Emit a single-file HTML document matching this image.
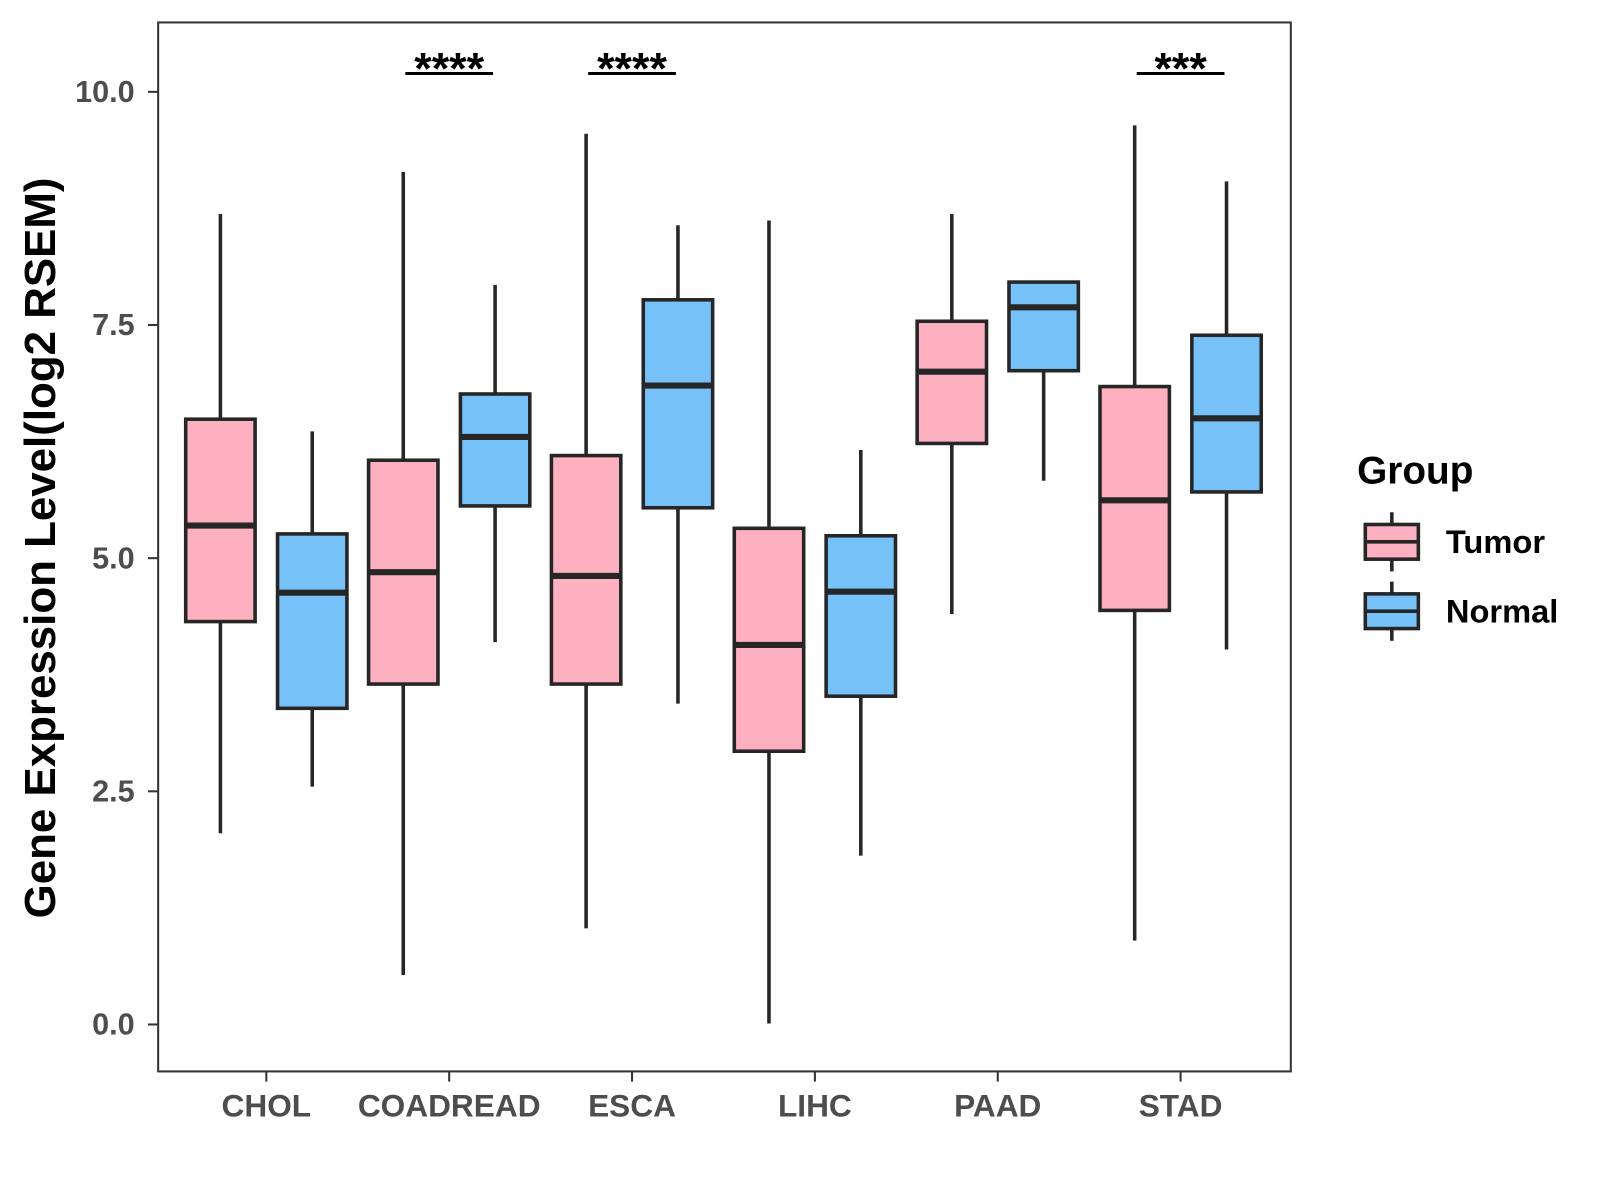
<!DOCTYPE html>
<html><head><meta charset="utf-8"><style>
html,body{margin:0;padding:0;background:#fff;}
svg{display:block;font-family:"Liberation Sans",Arial,sans-serif;}
</style></head><body>
<svg id="chart" width="1600" height="1200" viewBox="0 0 1600 1200"><g id="root" transform="scale(1.0204)"></g></svg>
<script>
const categories = ["CHOL","COADREAD","ESCA","LIHC","PAAD","STAD"];
const tumorLow  = [2.05,0.53,1.03,0.01,4.40,0.90];
const tumorQ1   = [4.32,3.65,3.65,2.93,6.23,4.44];
const tumorMed  = [5.35,4.85,4.81,4.07,7.00,5.62];
const tumorQ3   = [6.49,6.05,6.10,5.32,7.54,6.84];
const tumorHigh = [8.69,9.14,9.55,8.62,8.69,9.64];
const normalLow  = [2.55,4.10,3.44,1.81,5.83,4.02];
const normalQ1   = [3.39,5.56,5.54,3.52,7.01,5.71];
const normalMed  = [4.63,6.30,6.85,4.64,7.69,6.50];
const normalQ3   = [5.26,6.76,7.77,5.24,7.96,7.39];
const normalHigh = [6.36,7.93,8.57,6.16,7.96,9.04];
const sigLabels  = ["","****","****","","","***"];
const yTicks = [0,2.5,5,7.5,10];
const yTickLabels = ["0.0","2.5","5.0","7.5","10.0"];

const NS="http://www.w3.org/2000/svg";
const svg=document.getElementById('root');
const L=155,R=1265,T=22,B=1050;
const y=v=>1004-(v)*91.4;
const x=i=>261+i*179.2;
function mk(tag,attrs,parent){const e=document.createElementNS(NS,tag);for(const k in attrs)e.setAttribute(k,attrs[k]);(parent||svg).appendChild(e);return e;}

const panel=mk('rect',{x:L,y:T,width:R-L,height:B-T,fill:'#fff',stroke:'#333',"stroke-width":2});



yTicks.forEach((v,i)=>{
  const t=mk('line',{x1:145,x2:L,y1:y(v),y2:y(v),stroke:'#333',"stroke-width":2});
  
  
  const tx=mk('text',{x:132,y:y(v)+10,"text-anchor":"end","font-size":30,"font-weight":"bold",fill:'#4d4d4d'});
  tx.textContent=yTickLabels[i];
  
  
});

function box(cx,lo,q1,md,q3,hi,fill,name){
  const g=mk('g',{});
  
  
  mk('line',{x1:cx,x2:cx,y1:y(hi),y2:y(q3),stroke:'#262626',"stroke-width":3.5},g);
  mk('line',{x1:cx,x2:cx,y1:y(q1),y2:y(lo),stroke:'#262626',"stroke-width":3.5},g);
  mk('rect',{x:cx-34,y:y(q3),width:68,height:y(q1)-y(q3),fill:fill,stroke:'#262626',"stroke-width":3.5},g);
  mk('line',{x1:cx-34,x2:cx+34,y1:y(md),y2:y(md),stroke:'#262626',"stroke-width":6},g);
}

categories.forEach((c,i)=>{
  const cx=x(i);
  box(cx-45,tumorLow[i],tumorQ1[i],tumorMed[i],tumorQ3[i],tumorHigh[i],'#fdb0c0','tumor-box-'+c.toLowerCase());
  box(cx+45,normalLow[i],normalQ1[i],normalMed[i],normalQ3[i],normalHigh[i],'#76c2f8','normal-box-'+c.toLowerCase());
  const tk=mk('line',{x1:cx,x2:cx,y1:B,y2:B+10,stroke:'#333',"stroke-width":2});
  
  
  const lb=mk('text',{x:cx,y:1094,"text-anchor":"middle","font-size":31,"font-weight":"bold",fill:'#4d4d4d'});
  lb.textContent=c;
  
  
  if(sigLabels[i]){
    const sl=mk('line',{x1:cx-43,x2:cx+43,y1:72,y2:72,stroke:'#000',"stroke-width":3});
    
    
    const st=mk('text',{x:cx,y:82,"text-anchor":"middle","font-size":44,"font-weight":"bold",fill:'#000'});
    st.textContent=sigLabels[i];
    
    
  }
});

const yt=mk('text',{x:0,y:0,transform:'translate(54,537) rotate(-90)',"text-anchor":"middle","font-size":43,"font-weight":"bold",fill:'#000'});
yt.textContent='Gene Expression Level(log2 RSEM)';



const lt=mk('text',{x:1330,y:474,"font-size":38,"font-weight":"bold",fill:'#000'});
lt.textContent='Group';


[['Tumor','#fdb0c0',531],['Normal','#76c2f8',599]].forEach(([n,f,cy])=>{
  const g=mk('g',{});
  
  
  mk('line',{x1:1364,x2:1364,y1:cy-29,y2:cy+29,stroke:'#262626',"stroke-width":3.5},g);
  mk('rect',{x:1338,y:cy-17,width:52,height:34,fill:f,stroke:'#262626',"stroke-width":3.5},g);
  mk('line',{x1:1338,x2:1390,y1:cy,y2:cy,stroke:'#262626',"stroke-width":3.5},g);
  const t=mk('text',{x:1417,y:cy+11,"font-size":32,"font-weight":"bold",fill:'#000'},g);
  t.textContent=n;
});
</script>
</body></html>
